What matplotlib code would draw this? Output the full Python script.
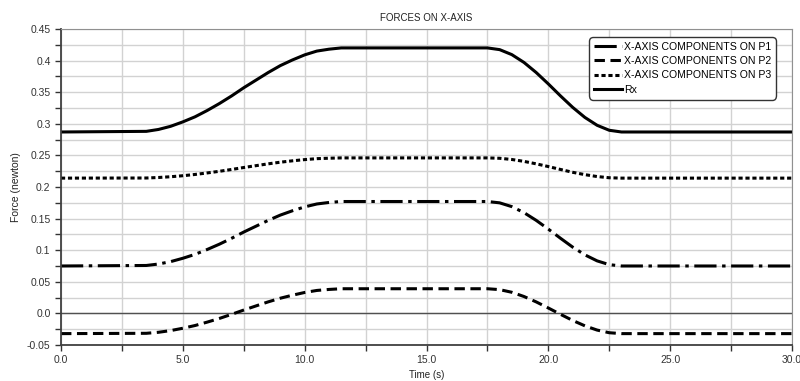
import matplotlib
matplotlib.use("Agg")
import matplotlib.pyplot as plt
from matplotlib.ticker import MultipleLocator

plt.rcParams['font.family'] = ['Liberation Sans', 'DejaVu Sans']
plt.rcParams['lines.scale_dashes'] = False

time_s = [0.0, 3.5, 4.0, 4.5, 5.0, 5.5, 6.0, 6.5, 7.0, 7.5, 8.0, 8.5, 9.0, 9.5,
          10.0, 10.5, 11.0, 11.5, 17.5, 18.0, 18.5, 19.0, 19.5, 20.0, 20.5,
          21.0, 21.5, 22.0, 22.5, 23.0, 30.0]

p1 = [0.075, 0.0758, 0.0781, 0.0819, 0.0872, 0.0934, 0.1011, 0.1095, 0.1188,
      0.1287, 0.1379, 0.1471, 0.1555, 0.1624, 0.1685, 0.1731, 0.1755, 0.177,
      0.177, 0.1749, 0.1689, 0.1594, 0.1472, 0.1333, 0.1188, 0.1048, 0.0926,
      0.0831, 0.0771, 0.075, 0.075]

p2 = [-0.032, -0.0315, -0.0299, -0.0272, -0.0235, -0.0192, -0.0138, -0.0080,
      -0.0015, 0.0053, 0.0118, 0.0182, 0.0240, 0.0288, 0.0331, 0.0363, 0.0379,
      0.039, 0.039, 0.0376, 0.0334, 0.0267, 0.0182, 0.0085, -0.0015, -0.0112,
      -0.0197, -0.0264, -0.0306, -0.032, -0.032]

p3 = [0.214, 0.2142, 0.2150, 0.2162, 0.2178, 0.2198, 0.2222, 0.2248, 0.2277,
      0.2308, 0.2337, 0.2366, 0.2392, 0.2414, 0.2433, 0.2448, 0.2455, 0.246,
      0.246, 0.2454, 0.2435, 0.2405, 0.2366, 0.2323, 0.2277, 0.2232, 0.2195,
      0.2165, 0.2146, 0.214, 0.214]

rx = [0.287, 0.288, 0.291, 0.296, 0.303, 0.311, 0.321, 0.332, 0.344, 0.357,
      0.369, 0.381, 0.392, 0.401, 0.409, 0.415, 0.418, 0.420, 0.420, 0.4173,
      0.4094, 0.3970, 0.3811, 0.3630, 0.3440, 0.3259, 0.3100, 0.2976, 0.2897,
      0.287, 0.287]

labels = ["X-AXIS COMPONENTS ON P1", "X-AXIS COMPONENTS ON P2",
          "X-AXIS COMPONENTS ON P3", "Rx"]

x_ticks = [0.0, 5.0, 10.0, 15.0, 20.0, 25.0, 30.0]
x_tick_labels = ["0.0", "5.0", "10.0", "15.0", "20.0", "25.0", "30.0"]
y_ticks = [-0.05, 0.0, 0.05, 0.1, 0.15, 0.2, 0.25, 0.3, 0.35, 0.4, 0.45]
y_tick_labels = ["-0.05", "0.0", "0.05", "0.1", "0.15", "0.2", "0.25", "0.3",
                 "0.35", "0.4", "0.45"]

fig = plt.figure(figsize=(8.0, 3.81), dpi=100)
ax = fig.add_axes([0.07625, 0.0945, 0.9138, 0.8295])

ax.set_xlim(0, 30)
ax.set_ylim(-0.05, 0.45)

# grid
ax.xaxis.set_minor_locator(MultipleLocator(2.5))
ax.yaxis.set_minor_locator(MultipleLocator(0.025))
ax.grid(True, which='both', color='#d2d2d2', linewidth=1.0)
ax.set_axisbelow(True)
ax.axhline(0.0, color='#505050', linewidth=1.0, zorder=1.5)

lw = 2.2
ax.plot(time_s, p1, color='black', lw=lw, dashes=(16, 4, 2.5, 4),
        label=labels[0], solid_capstyle='butt', dash_capstyle='butt')
ax.plot(time_s, p2, color='black', lw=lw, dashes=(7.5, 4),
        label=labels[1], dash_capstyle='butt')
ax.plot(time_s, p3, color='black', lw=lw, dashes=(3, 2),
        label=labels[2], dash_capstyle='butt')
ax.plot(time_s, rx, color='black', lw=lw, label=labels[3])

ax.set_xticks(x_ticks)
ax.set_xticklabels(x_tick_labels)
ax.set_yticks(y_ticks)
ax.set_yticklabels(y_tick_labels)
ax.tick_params(axis='both', which='both', labelsize=7.5, colors='#333333',
               length=4, width=1.0)

for side in ['top', 'right']:
    ax.spines[side].set_color('#909090')
for side in ['left', 'bottom']:
    ax.spines[side].set_color('#404040')
    ax.spines[side].set_linewidth(1.3)

ax.set_title("FORCES ON X-AXIS", fontsize=7, color='#222222', pad=6)
ax.set_xlabel("Time (s)", fontsize=7, color='#222222', labelpad=3)
ax.set_ylabel("Force (newton)", fontsize=7.5, color='#222222', labelpad=4)

leg = ax.legend(loc='upper right', bbox_to_anchor=(0.9825, 0.985),
                fontsize=7.6, handlelength=2.7, handletextpad=0.15,
                borderpad=0.45, borderaxespad=0.3, labelspacing=0.42,
                framealpha=1.0, fancybox=True)
leg.get_frame().set_edgecolor('#333333')
leg.get_frame().set_linewidth(1.0)
leg.get_frame().set_boxstyle('round,pad=0,rounding_size=0.4')

fig.savefig("out.png", dpi=100)
